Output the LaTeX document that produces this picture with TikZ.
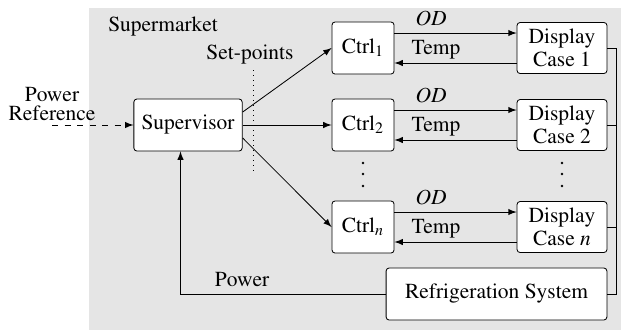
\documentclass[tikz,border=0pt]{standalone}
\usepackage[T1]{fontenc}
\usepackage{mathptmx}
\tikzset{
    blk/.style={draw, fill=white, rounded corners=1.5pt, align=center, inner sep=1pt, font=\fontsize{10.3}{10.8}\selectfont},
    ctrl/.style={blk, minimum width=29.8pt, minimum height=25pt},
    case/.style={blk, minimum width=43.2pt, minimum height=24.5pt}
}
\begin{document}
\begin{tikzpicture}[x=0.48pt, y=-0.48pt, >=latex, font=\fontsize{10.3}{12}\selectfont]
            \useasboundingbox (0,0) rectangle (621,330);
            \fill[black!10] (89,8) rectangle (621,330);
            \node (mkt) at (163,27) {Supermarket};
            \node (sp) at (250,55) {Set-points};
            \draw[dotted] (253,70) -- (253,172);
            \node[align=center, font=\fontsize{10.3}{9}\selectfont] (pref) at (52,104) {Power\\Reference};
            \coordinate (pin) at (52,125);
            \node[blk, minimum width=52pt, minimum height=25pt] (sup) at (188,125) {Supervisor};
            \node[ctrl] (c1) at (363,48) {Ctrl$_1$};
            \node[ctrl] (c2) at (363,125) {Ctrl$_2$};
            \node[ctrl] (cn) at (363,227) {Ctrl$_n$};
            \node[case] (d1) at (562,48) {Display\\Case 1};
            \node[case] (d2) at (562,125) {Display\\Case 2};
            \node[case] (dn) at (562,227) {Display\\Case $n$};
            \node[blk, minimum width=106pt, minimum height=25pt] (rs) at (496.5,294) {Refrigeration System};
            \draw[->, dashed] (pin) -- (sup.west);
            \draw[->] ([yshift=6.2pt]sup.east) -- (c1.west);
            \draw[->] (sup.east) -- (c2.west);
            \draw[->] ([yshift=-6.2pt]sup.east) -- (cn.west);
            \foreach \c/\d in {c1/d1, c2/d2, cn/dn} {
                \draw[->] ([yshift=7.2pt]\c.east) -- ([yshift=7.2pt]\d.west) node[pos=0.3, above] {$OD$};
                \draw[->] ([yshift=-7.2pt]\d.west) -- ([yshift=-7.2pt]\c.east) node[pos=0.66, above, inner sep=1.5pt] {Temp};
            }
            \foreach \y in {163,174,186} {
                \fill (363,\y) circle (0.7pt);
                \fill (562,\y) circle (0.7pt);
            }
            \draw (d1.east) -- ++(9,0) |- (rs.east);
            \draw (d2.east) -- ++(9,0);
            \draw (dn.east) -- ++(9,0);
            \draw[->] (rs.west) -| ([xshift=-3.6pt]sup.south) node[pos=0.35, above] {Power};
\end{tikzpicture}
\end{document}
